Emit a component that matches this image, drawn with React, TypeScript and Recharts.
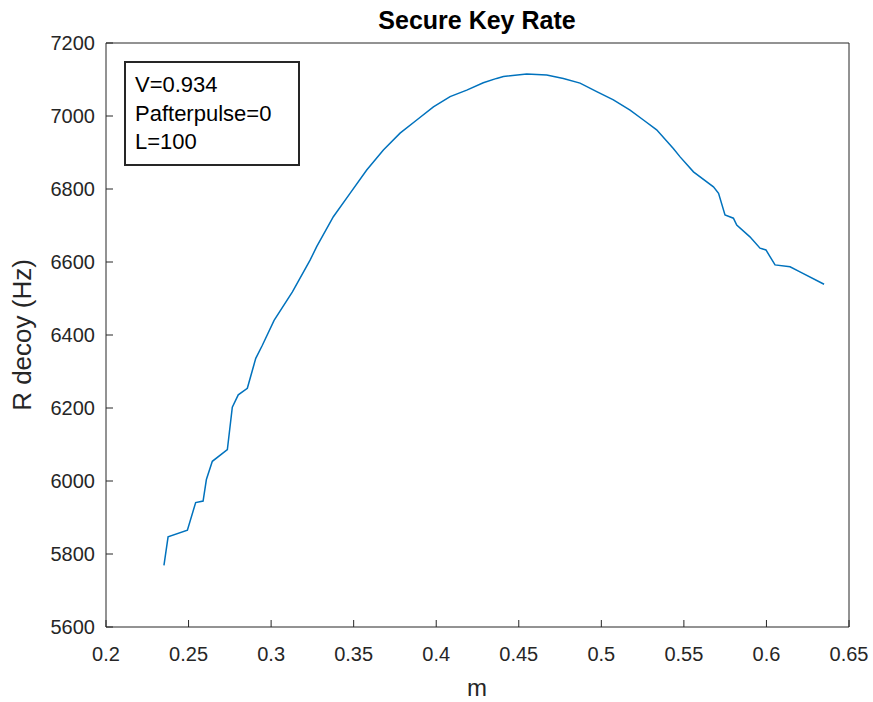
import React from "react";
import { LineChart, Line, XAxis, YAxis } from "recharts";

// sampled curve: mean photon number m vs decoy-state key rate (Hz)
const mValues = [
  0.2351, 0.2376, 0.2493, 0.2543, 0.2588, 0.2608, 0.2644, 0.2735, 0.2765, 0.2801,
  0.2856, 0.2907, 0.2947, 0.3018, 0.3129, 0.3236, 0.3276, 0.3377, 0.3478, 0.3579,
  0.368, 0.3781, 0.3882, 0.3983, 0.4084, 0.4185, 0.4285, 0.4366, 0.4407, 0.4548,
  0.4669, 0.477, 0.4871, 0.4972, 0.5073, 0.5174, 0.5255, 0.5335, 0.5436, 0.5477,
  0.5558, 0.5679, 0.571, 0.5749, 0.58, 0.582, 0.59, 0.5961, 0.5997, 0.6052,
  0.6143, 0.6203, 0.6349,
];
const rateValues = [
  5769, 5847, 5865, 5941, 5945, 6004, 6054, 6086, 6202, 6236,
  6254, 6336, 6372, 6440, 6518, 6605, 6642, 6724, 6788, 6852,
  6907, 6953, 6989, 7025, 7053, 7071, 7091, 7103, 7108, 7115,
  7112, 7103, 7090, 7067, 7044, 7016, 6989, 6962, 6911, 6888,
  6847, 6806, 6788, 6729, 6720, 6701, 6669, 6638, 6633, 6592,
  6587, 6573, 6539,
];

const xTicks = [0.2, 0.25, 0.3, 0.35, 0.4, 0.45, 0.5, 0.55, 0.6, 0.65];
const yTicks = [5600, 5800, 6000, 6200, 6400, 6600, 6800, 7000, 7200];
const infoLines = ["V=0.934", "Pafterpulse=0", "L=100"];

const data = mValues.map((m, i) => ({ m, r: rateValues[i] }));

const AXIS = "#262626";
const FONT = "'Liberation Sans', Arial, sans-serif";
const tickStyle = { fill: AXIS, fontSize: 20, fontFamily: FONT };

export default function App() {
  return (
    <div
      style={{
        position: "absolute", left: 0, top: 0, width: 873, height: 702,
        fontFamily: FONT, background: "#fff", overflow: "hidden",
      }}
    >
      <LineChart width={873} height={702} data={data} margin={{ top: 42, right: 23, left: 0, bottom: 0 }}>
        <XAxis
          dataKey="m"
          type="number"
          domain={[0.2, 0.65]}
          ticks={xTicks}
          interval={0}
          height={75}
          tickSize={-7}
          tickMargin={27}
          stroke={AXIS}
          tick={tickStyle}
          tickFormatter={(v: number) => String(v)}
        />
        {/* top and right axes close the box, ticks only */}
        <XAxis
          xAxisId="top"
          orientation="top"
          dataKey="m"
          type="number"
          domain={[0.2, 0.65]}
          ticks={xTicks}
          interval={0}
          height={1}
          tickSize={-7}
          stroke={AXIS}
          tick={false}
        />
        <YAxis
          type="number"
          domain={[5600, 7200]}
          ticks={yTicks}
          interval={0}
          width={106}
          tickSize={-7}
          tickMargin={18}
          stroke={AXIS}
          tick={tickStyle}
        />
        <YAxis
          yAxisId="right"
          orientation="right"
          type="number"
          domain={[5600, 7200]}
          ticks={yTicks}
          interval={0}
          width={1}
          tickSize={-7}
          stroke={AXIS}
          tick={false}
        />
        <Line
          xAxisId="top"
          yAxisId="right"
          dataKey="r"
          type="linear"
          stroke="none"
          dot={false}
          legendType="none"
          isAnimationActive={false}
        />
        <Line
          dataKey="r"
          type="linear"
          stroke="#0072BD"
          strokeWidth={1.5}
          dot={false}
          isAnimationActive={false}
        />
      </LineChart>

      <div
        style={{
          position: "absolute", left: 277, width: 400, top: 5, textAlign: "center",
          fontWeight: "bold", fontSize: 25, color: "#000", lineHeight: "30px",
        }}
      >
        Secure Key Rate
      </div>
      <div
        style={{
          position: "absolute", left: 377, width: 200, top: 674, textAlign: "center",
          fontSize: 24, color: AXIS, lineHeight: "28px",
        }}
      >
        m
      </div>
      <div style={{ position: "absolute", left: 22, top: 335, width: 0, height: 0 }}>
        <div
          style={{
            position: "absolute", left: -100, top: -15, width: 200, textAlign: "center",
            fontSize: 26, color: AXIS, lineHeight: "30px", transform: "rotate(-90deg)",
          }}
        >
          R decoy (Hz)
        </div>
      </div>
      <div
        style={{
          position: "absolute", left: 124, top: 61, width: 163, height: 93,
          border: `2px solid ${AXIS}`, background: "#fff", boxSizing: "content-box",
          padding: "8px 0 0 9px",
        }}
      >
        {infoLines.map((t) => (
          <div key={t} style={{ fontSize: 22, lineHeight: "28.5px", color: "#000", whiteSpace: "nowrap" }}>
            {t}
          </div>
        ))}
      </div>
    </div>
  );
}
